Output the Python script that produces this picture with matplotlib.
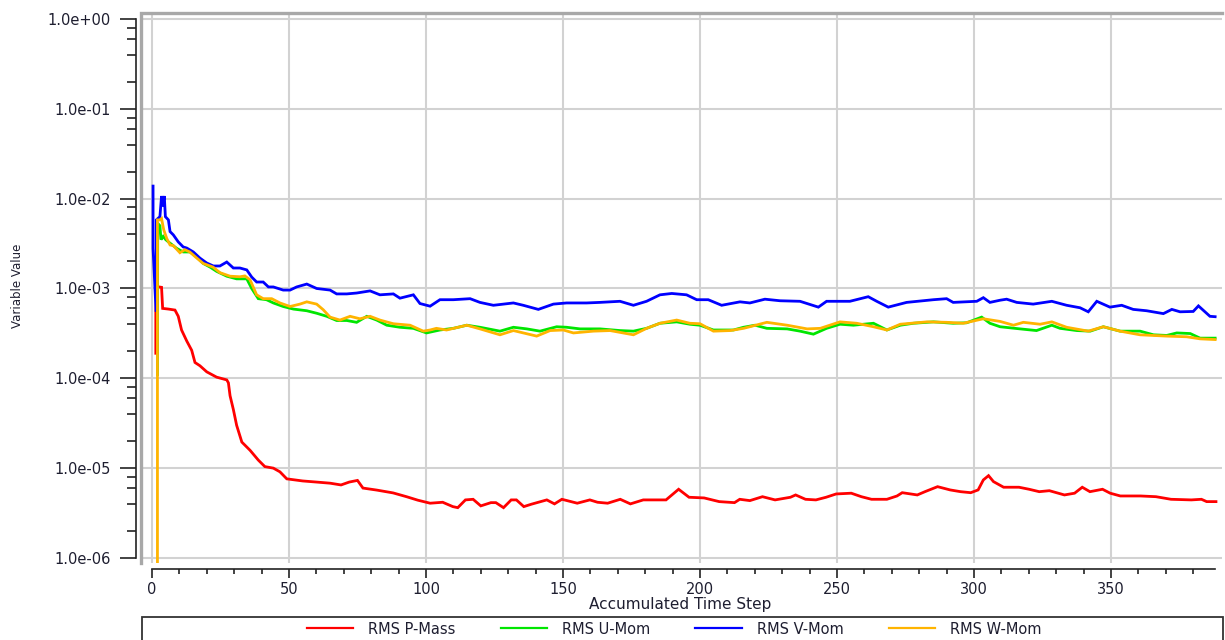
import numpy as np
import matplotlib
matplotlib.use("Agg")
import matplotlib.pyplot as plt
from matplotlib.ticker import FixedLocator, FuncFormatter, NullFormatter
from matplotlib.patches import Rectangle

# ---- data ----
p_mass_t = [1.4, 1.4, 1.7, 3.5, 3.9, 6.0, 8.4, 9.6, 10.8, 12.7,
            14.5, 15.7, 17.5, 20.0, 23.6, 27.3, 27.9, 28.5, 29.7, 30.9,
            32.8, 35.8, 38.8, 41.2, 44.3, 46.7, 49.2, 55.0, 60.0, 65.0,
            69.0, 72.0, 75.0, 77.0, 82.0, 88.0, 93.0, 97.0, 101.5, 106.1,
            109.8, 111.6, 114.4, 117.2, 120.0, 123.7, 125.5, 128.3, 131.1, 133.0,
            135.7, 138.5, 144.1, 146.9, 149.6, 155.2, 159.8, 162.6, 166.3, 170.9,
            174.6, 179.3, 183.9, 187.6, 192.2, 196.0, 201.5, 207.0, 212.6, 214.5,
            218.2, 222.8, 227.4, 233.0, 234.9, 238.5, 242.3, 246.0, 249.7, 255.2,
            258.9, 262.6, 268.2, 271.9, 273.8, 279.3, 282.1, 286.7, 291.3, 295.1,
            298.8, 301.5, 303.4, 305.3, 307.1, 310.8, 316.4, 320.1, 323.8, 327.5,
            333.0, 336.7, 339.5, 342.3, 346.9, 349.7, 353.4, 360.8, 366.4, 371.9,
            379.3, 383.0, 384.9, 388.3]
p_mass_v = [1.9e-4, 5.5e-4, 1.05e-3, 1.03e-3, 6.0e-4, 5.9e-4, 5.75e-4, 4.9e-4, 3.45e-4, 2.6e-4,
            2.05e-4, 1.5e-4, 1.38e-4, 1.18e-4, 1.03e-4, 9.6e-5, 8.9e-5, 6.4e-5, 4.5e-5, 3.0e-5,
            1.95e-5, 1.58e-5, 1.23e-5, 1.04e-5, 1.0e-5, 9.1e-6, 7.6e-6, 7.2e-6, 7.0e-6, 6.8e-6,
            6.5e-6, 7.0e-6, 7.3e-6, 6.0e-6, 5.7e-6, 5.3e-6, 4.8e-6, 4.4e-6, 4.07e-6, 4.17e-6,
            3.73e-6, 3.63e-6, 4.43e-6, 4.5e-6, 3.8e-6, 4.13e-6, 4.13e-6, 3.63e-6, 4.43e-6, 4.43e-6,
            3.73e-6, 3.97e-6, 4.43e-6, 4.0e-6, 4.5e-6, 4.07e-6, 4.43e-6, 4.17e-6, 4.07e-6, 4.5e-6,
            4.0e-6, 4.43e-6, 4.43e-6, 4.43e-6, 5.82e-6, 4.74e-6, 4.66e-6, 4.24e-6, 4.13e-6, 4.5e-6,
            4.35e-6, 4.81e-6, 4.43e-6, 4.74e-6, 5.03e-6, 4.5e-6, 4.43e-6, 4.74e-6, 5.16e-6, 5.26e-6,
            4.81e-6, 4.5e-6, 4.5e-6, 4.9e-6, 5.33e-6, 5.03e-6, 5.47e-6, 6.22e-6, 5.72e-6, 5.47e-6,
            5.33e-6, 5.72e-6, 7.39e-6, 8.25e-6, 7.08e-6, 6.13e-6, 6.13e-6, 5.82e-6, 5.47e-6, 5.61e-6,
            5.03e-6, 5.26e-6, 6.13e-6, 5.47e-6, 5.82e-6, 5.26e-6, 4.9e-6, 4.9e-6, 4.81e-6, 4.5e-6,
            4.43e-6, 4.5e-6, 4.24e-6, 4.24e-6]

u_mom_t = [2.0, 2.1, 2.9, 3.3, 4.1, 5.0, 6.0, 9.0, 11.4, 13.9,
           16.3, 18.7, 21.2, 23.6, 27.3, 30.9, 34.6, 36.4, 38.8, 41.8,
           44.3, 47.9, 51.6, 56.5, 60.1, 63.8, 67.4, 71.1, 74.7, 78.4,
           82.0, 85.7, 90.5, 95.4, 100.2, 105.1, 110.0, 114.9, 119.7, 127.0,
           131.9, 136.8, 141.6, 147.7, 151.3, 156.2, 163.5, 170.8, 175.7, 180.5,
           185.4, 191.5, 196.3, 200.0, 204.9, 212.2, 215.9, 220.1, 224.4, 231.8,
           236.5, 241.4, 246.2, 251.1, 256.0, 263.3, 268.2, 273.1, 277.9, 285.2,
           292.4, 297.3, 302.8, 305.8, 309.5, 316.8, 322.8, 328.4, 331.4, 337.5,
           342.4, 347.2, 353.3, 360.6, 365.5, 370.3, 374.0, 378.9, 382.5, 388.0]
u_mom_v = [1.1e-4, 5.3e-3, 5.0e-3, 3.5e-3, 3.8e-3, 3.5e-3, 3.3e-3, 2.8e-3, 2.55e-3, 2.55e-3,
           2.25e-3, 1.9e-3, 1.73e-3, 1.55e-3, 1.37e-3, 1.28e-3, 1.28e-3, 1.0e-3, 7.7e-4, 7.5e-4,
           6.9e-4, 6.3e-4, 5.9e-4, 5.65e-4, 5.3e-4, 4.9e-4, 4.4e-4, 4.4e-4, 4.2e-4, 4.9e-4,
           4.45e-4, 3.9e-4, 3.7e-4, 3.6e-4, 3.2e-4, 3.45e-4, 3.6e-4, 3.9e-4, 3.7e-4, 3.35e-4,
           3.7e-4, 3.55e-4, 3.35e-4, 3.75e-4, 3.7e-4, 3.55e-4, 3.55e-4, 3.4e-4, 3.35e-4, 3.6e-4,
           4.1e-4, 4.25e-4, 4.0e-4, 3.9e-4, 3.45e-4, 3.45e-4, 3.7e-4, 3.9e-4, 3.6e-4, 3.55e-4,
           3.35e-4, 3.1e-4, 3.6e-4, 4.0e-4, 3.9e-4, 4.1e-4, 3.45e-4, 3.9e-4, 4.1e-4, 4.25e-4,
           4.1e-4, 4.15e-4, 4.8e-4, 4.1e-4, 3.75e-4, 3.55e-4, 3.4e-4, 3.9e-4, 3.6e-4, 3.4e-4,
           3.35e-4, 3.75e-4, 3.35e-4, 3.35e-4, 3.05e-4, 3.0e-4, 3.2e-4, 3.15e-4, 2.8e-4, 2.8e-4]

v_mom_t = [0.4, 0.4, 1.5, 1.6, 2.9, 3.2, 3.5, 3.9, 4.5, 4.9,
           6.0, 6.6, 7.8, 9.6, 11.4, 12.7, 15.1, 17.5, 20.0, 22.4,
           24.8, 27.3, 29.7, 32.1, 34.6, 36.4, 38.2, 40.6, 42.5, 44.3,
           47.9, 50.4, 52.8, 56.5, 60.1, 65.0, 67.4, 71.1, 74.7, 79.6,
           83.2, 88.1, 90.5, 95.4, 97.8, 101.5, 105.1, 110.0, 116.1, 119.7,
           124.6, 131.9, 135.5, 141.0, 146.5, 151.3, 158.6, 163.5, 170.8, 175.7,
           180.5, 185.4, 189.7, 195.1, 198.8, 203.0, 207.9, 214.6, 218.2, 223.7,
           229.2, 236.5, 243.2, 246.2, 254.7, 261.4, 264.5, 268.7, 275.4, 285.2,
           290.0, 292.4, 301.0, 303.4, 305.8, 309.5, 311.9, 315.6, 321.6, 328.4,
           333.8, 338.7, 341.7, 344.8, 349.6, 353.9, 358.1, 363.0, 369.1, 372.2,
           375.2, 380.0, 381.9, 386.1, 388.0]
v_mom_v = [1.38e-2, 2.8e-3, 5.5e-4, 5.8e-3, 6.3e-3, 8.2e-3, 1.07e-2, 8.2e-3, 1.07e-2, 6.3e-3,
           5.8e-3, 4.3e-3, 3.95e-3, 3.3e-3, 2.9e-3, 2.82e-3, 2.55e-3, 2.18e-3, 1.92e-3, 1.78e-3,
           1.78e-3, 1.97e-3, 1.69e-3, 1.69e-3, 1.61e-3, 1.34e-3, 1.18e-3, 1.18e-3, 1.04e-3, 1.04e-3,
           9.6e-4, 9.6e-4, 1.04e-3, 1.12e-3, 1.0e-3, 9.6e-4, 8.7e-4, 8.7e-4, 8.9e-4, 9.4e-4,
           8.5e-4, 8.7e-4, 7.8e-4, 8.5e-4, 6.8e-4, 6.35e-4, 7.5e-4, 7.5e-4, 7.7e-4, 7.0e-4,
           6.5e-4, 6.9e-4, 6.5e-4, 5.85e-4, 6.7e-4, 6.9e-4, 6.9e-4, 7.0e-4, 7.2e-4, 6.5e-4,
           7.2e-4, 8.5e-4, 8.8e-4, 8.5e-4, 7.5e-4, 7.5e-4, 6.5e-4, 7.1e-4, 6.9e-4, 7.6e-4,
           7.3e-4, 7.2e-4, 6.2e-4, 7.2e-4, 7.2e-4, 8.1e-4, 7.2e-4, 6.2e-4, 7.0e-4, 7.5e-4,
           7.7e-4, 7.0e-4, 7.2e-4, 7.9e-4, 7.0e-4, 7.4e-4, 7.6e-4, 7.0e-4, 6.7e-4, 7.2e-4,
           6.5e-4, 6.1e-4, 5.5e-4, 7.2e-4, 6.2e-4, 6.5e-4, 5.85e-4, 5.65e-4, 5.25e-4, 5.85e-4,
           5.5e-4, 5.55e-4, 6.4e-4, 4.9e-4, 4.85e-4]

w_mom_t = [2.0, 2.0, 2.9, 3.5, 4.3, 5.4, 6.6, 7.8, 10.2, 12.0,
           13.8, 16.2, 18.7, 22.3, 24.8, 28.5, 32.1, 33.9, 35.8, 38.2,
           40.6, 43.7, 46.7, 50.4, 54.0, 56.5, 60.1, 62.5, 65.0, 68.6,
           72.3, 75.9, 79.6, 83.2, 88.1, 94.2, 99.0, 101.5, 103.8, 107.5,
           114.9, 119.7, 127.0, 131.9, 140.4, 145.3, 150.1, 153.8, 161.1, 167.2,
           175.7, 180.5, 185.4, 191.5, 196.3, 200.0, 204.9, 211.0, 215.9, 224.4,
           231.8, 239.1, 243.9, 251.1, 257.2, 263.3, 268.2, 273.1, 282.8, 290.0,
           296.1, 303.4, 309.5, 314.4, 318.0, 324.1, 328.4, 333.8, 341.7, 347.2,
           353.3, 360.6, 370.3, 377.6, 382.5, 388.0]
w_mom_v = [5e-7, 5.8e-3, 5.8e-3, 6.0e-3, 4.5e-3, 3.6e-3, 3.05e-3, 3.0e-3, 2.5e-3, 2.7e-3,
           2.55e-3, 2.2e-3, 1.9e-3, 1.73e-3, 1.5e-3, 1.37e-3, 1.35e-3, 1.38e-3, 1.25e-3, 8.5e-4,
           7.7e-4, 7.7e-4, 6.9e-4, 6.3e-4, 6.7e-4, 7.1e-4, 6.7e-4, 5.8e-4, 4.8e-4, 4.45e-4,
           4.9e-4, 4.6e-4, 4.9e-4, 4.45e-4, 4.05e-4, 3.9e-4, 3.35e-4, 3.45e-4, 3.6e-4, 3.45e-4,
           3.9e-4, 3.55e-4, 3.05e-4, 3.4e-4, 2.95e-4, 3.4e-4, 3.45e-4, 3.2e-4, 3.35e-4, 3.4e-4,
           3.05e-4, 3.6e-4, 4.1e-4, 4.45e-4, 4.1e-4, 4.05e-4, 3.35e-4, 3.4e-4, 3.6e-4, 4.2e-4,
           3.9e-4, 3.55e-4, 3.6e-4, 4.25e-4, 4.1e-4, 3.75e-4, 3.45e-4, 4.0e-4, 4.25e-4, 4.2e-4,
           4.1e-4, 4.6e-4, 4.3e-4, 3.9e-4, 4.2e-4, 4.0e-4, 4.25e-4, 3.7e-4, 3.35e-4, 3.75e-4,
           3.35e-4, 3.05e-4, 2.95e-4, 2.9e-4, 2.75e-4, 2.7e-4]

series = [
    ("RMS P-Mass", p_mass_t, p_mass_v, "#ff0000"),
    ("RMS U-Mom", u_mom_t, u_mom_v, "#00e600"),
    ("RMS V-Mom", v_mom_t, v_mom_v, "#0000ff"),
    ("RMS W-Mom", w_mom_t, w_mom_v, "#ffb400"),
]

text_col = "#1e1e30"
W, H = 1225, 640

fig = plt.figure(figsize=(W / 100, H / 100), dpi=100)
ax = fig.add_axes([141 / W, 1 - 563 / H, (1222 - 141) / W, (563 - 13) / H])

lines = []
for name, t, v, col in series:
    ln, = ax.plot(t, v, color=col, lw=2.0, label=name, solid_joinstyle="miter")
    lines.append(ln)

ax.set_yscale("log")
ax.set_xlim(-4.0, 390.5)
ax.set_ylim(8.79e-7, 1.166)

# ticks
ax.yaxis.set_major_locator(FixedLocator([10.0 ** e for e in range(-6, 1)]))
ax.yaxis.set_minor_locator(FixedLocator([k * 10.0 ** e for e in range(-6, 0) for k in (2, 4, 6, 8)]))
ax.yaxis.set_major_formatter(FuncFormatter(lambda v, p: f"{v:.1e}"))
ax.yaxis.set_minor_formatter(NullFormatter())
ax.xaxis.set_major_locator(FixedLocator(np.arange(0, 351, 50)))
ax.xaxis.set_minor_locator(FixedLocator(np.arange(0, 381, 10)))

ax.tick_params(axis="y", which="major", length=11.5, width=1.2, pad=6.5,
               labelsize=10.5, labelcolor=text_col, color="#222222")
ax.tick_params(axis="y", which="minor", length=6.5, width=1.2, color="#222222")
ax.tick_params(axis="x", which="major", length=6.5, width=1.2, pad=3.0,
               labelsize=10.5, labelcolor=text_col, color="#222222")
ax.tick_params(axis="x", which="minor", length=3.6, width=1.2, color="#222222")

ax.grid(True, which="major", color="#d2d2d2", lw=1.5)
ax.set_axisbelow(True)

# detached axis lines like the solver monitor
for s in ("top", "right"):
    ax.spines[s].set_visible(False)
ax.spines["left"].set_position(("outward", 3.6))
ax.spines["left"].set_bounds(1e-6, 1.0)
ax.spines["bottom"].set_position(("outward", 4.3))
ax.spines["bottom"].set_bounds(0, 388)
for s in ("left", "bottom"):
    ax.spines[s].set_color("#222222")
    ax.spines[s].set_linewidth(1.2)

# grey plot-area frame on left and top
ax.plot([0, 0, 1], [0, 1, 1], transform=ax.transAxes, color="#a8a8a8",
        lw=2.4, clip_on=False, solid_joinstyle="miter")

fig.text(18 / W, 1 - 286 / H, "Variable Value", rotation=90, fontsize=8.5,
         color=text_col, ha="center", va="center")
fig.text(680 / W, 1 - 604 / H, "Accumulated Time Step", fontsize=11,
         color=text_col, ha="center", va="center")

# legend box at the bottom
fig.add_artist(Rectangle((142 / W, -0.02), (1223 - 142) / W, 0.02 + (640 - 617) / H,
                         transform=fig.transFigure, fill=False, edgecolor="#333333", lw=1.3))
leg = fig.legend(handles=lines, loc="center", bbox_to_anchor=(674 / W, 1 - 629 / H),
                 ncol=4, frameon=False, fontsize=10.5, handlelength=3.2,
                 handletextpad=1.0, columnspacing=3.1, borderaxespad=0)
for t in leg.get_texts():
    t.set_color(text_col)
for l in leg.get_lines():
    l.set_linewidth(1.6)

fig.savefig("out.png", dpi=100)
